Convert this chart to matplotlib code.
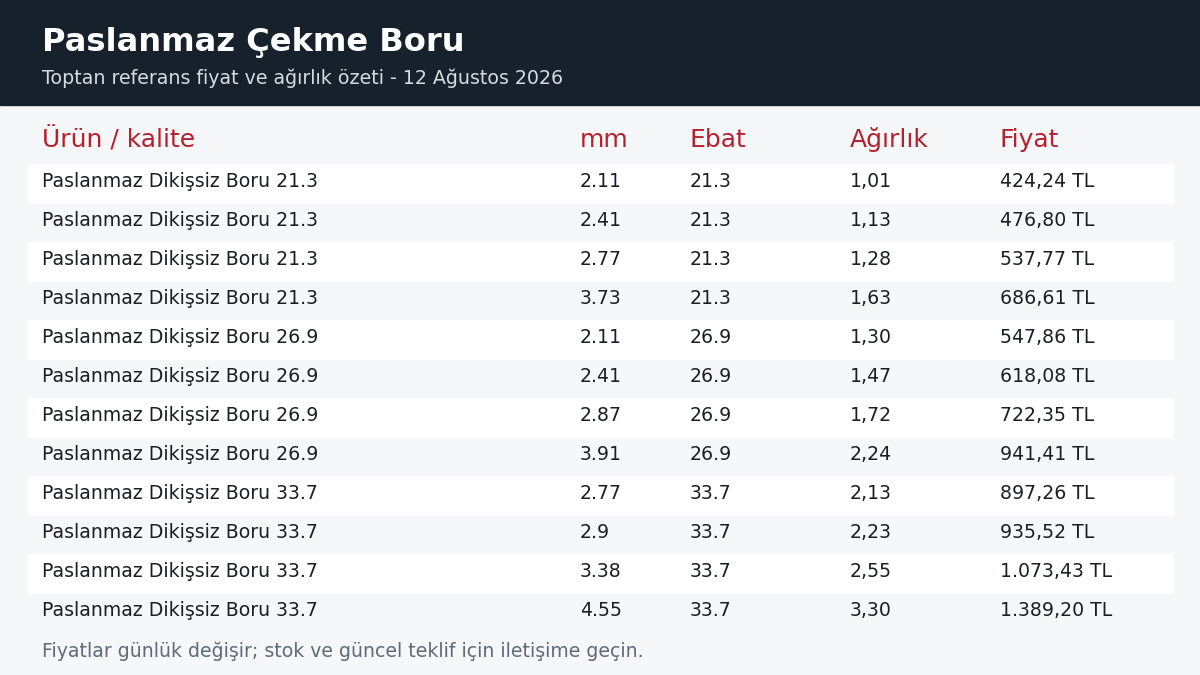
import matplotlib.pyplot as plt
from matplotlib.patches import Rectangle

title = "Paslanmaz Çekme Boru"
subtitle = "Toptan referans fiyat ve ağırlık özeti - 12 Ağustos 2026"
columns = ["Ürün / kalite", "mm", "Ebat", "Ağırlık", "Fiyat"]
products = ["Paslanmaz Dikişsiz Boru 21.3"] * 4 + ["Paslanmaz Dikişsiz Boru 26.9"] * 4 + ["Paslanmaz Dikişsiz Boru 33.7"] * 4
mm = ["2.11", "2.41", "2.77", "3.73", "2.11", "2.41", "2.87", "3.91", "2.77", "2.9", "3.38", "4.55"]
ebat = ["21.3"] * 4 + ["26.9"] * 4 + ["33.7"] * 4
agirlik = ["1,01", "1,13", "1,28", "1,63", "1,30", "1,47", "1,72", "2,24", "2,13", "2,23", "2,55", "3,30"]
fiyat = ["424,24 TL", "476,80 TL", "537,77 TL", "686,61 TL", "547,86 TL", "618,08 TL",
         "722,35 TL", "941,41 TL", "897,26 TL", "935,52 TL", "1.073,43 TL", "1.389,20 TL"]
footer = "Fiyatlar günlük değişir; stok ve güncel teklif için iletişime geçin."

col_x = [42, 580, 690, 850, 1000]

fig = plt.figure(figsize=(12, 6.75), dpi=100)
fig.patch.set_facecolor("#f5f7f9")
ax = fig.add_axes([0, 0, 1, 1])
ax.set_xlim(0, 1200)
ax.set_ylim(675, 0)
ax.axis("off")

# header band
ax.add_patch(Rectangle((0, 0), 1200, 105, color="#17212b"))
ax.text(42, 43, title, color="white", fontsize=23.1, fontweight="bold", va="center")
ax.text(42, 78, subtitle, color="#d5dbe2", fontsize=13.7, va="center")

# column headers
for x, c in zip(col_x, columns):
    ax.text(x, 140, c, color="#b5212e", fontsize=18, va="center")

# rows
row_h = 39
for i, row in enumerate(zip(products, mm, ebat, agirlik, fiyat)):
    top = 164 + i * row_h
    if i % 2 == 0:
        ax.add_patch(Rectangle((28, top), 1145, row_h, color="white"))
    for x, val in zip(col_x, row):
        ax.text(x, top + row_h / 2 - 2, val, color="#1b1f24", fontsize=13.6, va="center")

ax.text(42, 651, footer, color="#5f6b78", fontsize=13.6, va="center")

fig.savefig("out.png", dpi=100, facecolor=fig.get_facecolor())
